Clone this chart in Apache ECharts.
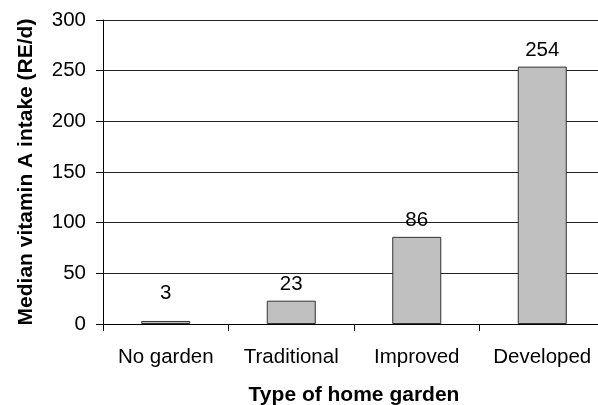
<!DOCTYPE html>
<html>
<head>
<meta charset="utf-8">
<script src="https://cdn.jsdelivr.net/npm/echarts@6/dist/echarts.min.js"></script>
<style>html,body{margin:0;padding:0;background:#fff;overflow:hidden;}#c{width:612px;height:405px;}</style>
</head>
<body>
<div id="c"></div>
<script>
var categories = ['No garden', 'Traditional', 'Improved', 'Developed'];
var intake = [3, 23, 86, 254];
var yTicks = [0, 50, 100, 150, 200, 250, 300];

var FONT = '"Liberation Sans", Arial, sans-serif';
var chart = echarts.init(document.getElementById('c'), null, {renderer: 'canvas'});
var data = intake.map(function (v, i) {
  var d = {value: v};
  if (i === 0) d.label = {distance: 17};
  return d;
});
chart.setOption({
  animation: false,
  backgroundColor: '#fff',
  grid: {left: 103, top: 20, right: 7, bottom: 81, containLabel: false, outerBoundsMode: 'none'},
  xAxis: {
    type: 'category',
    data: categories,
    name: 'Type of home garden',
    nameLocation: 'middle',
    nameGap: 61,
    nameTextStyle: {fontFamily: FONT, fontSize: 21, fontWeight: 'bold', color: '#000'},
    axisLine: {show: true, lineStyle: {color: '#000', width: 1}},
    axisTick: {show: true, length: 7, interval: 0, lineStyle: {color: '#000'}},
    axisLabel: {fontFamily: FONT, fontSize: 20.5, color: '#000', margin: 23, interval: 0},
    splitLine: {show: false}
  },
  yAxis: {
    type: 'value',
    min: yTicks[0],
    max: yTicks[yTicks.length - 1],
    interval: yTicks[1] - yTicks[0],
    name: 'Median vitamin A intake (RE/d)',
    nameLocation: 'middle',
    nameGap: 66,
    nameTextStyle: {fontFamily: FONT, fontSize: 21, fontWeight: 'bold', color: '#000'},
    axisLine: {show: true, lineStyle: {color: '#000', width: 1}},
    axisTick: {show: true, length: 7, lineStyle: {color: '#000'}},
    axisLabel: {fontFamily: FONT, fontSize: 20.5, color: '#000', margin: 17},
    splitLine: {show: true, lineStyle: {color: '#222', width: 1}}
  },
  series: [{
    type: 'bar',
    data: data,
    barWidth: 49,
    itemStyle: {color: '#c0c0c0', borderColor: '#333', borderWidth: 1},
    label: {show: true, position: 'top', distance: 6, fontFamily: FONT, fontSize: 20.5, color: '#000'}
  }]
});
</script>
</body>
</html>
